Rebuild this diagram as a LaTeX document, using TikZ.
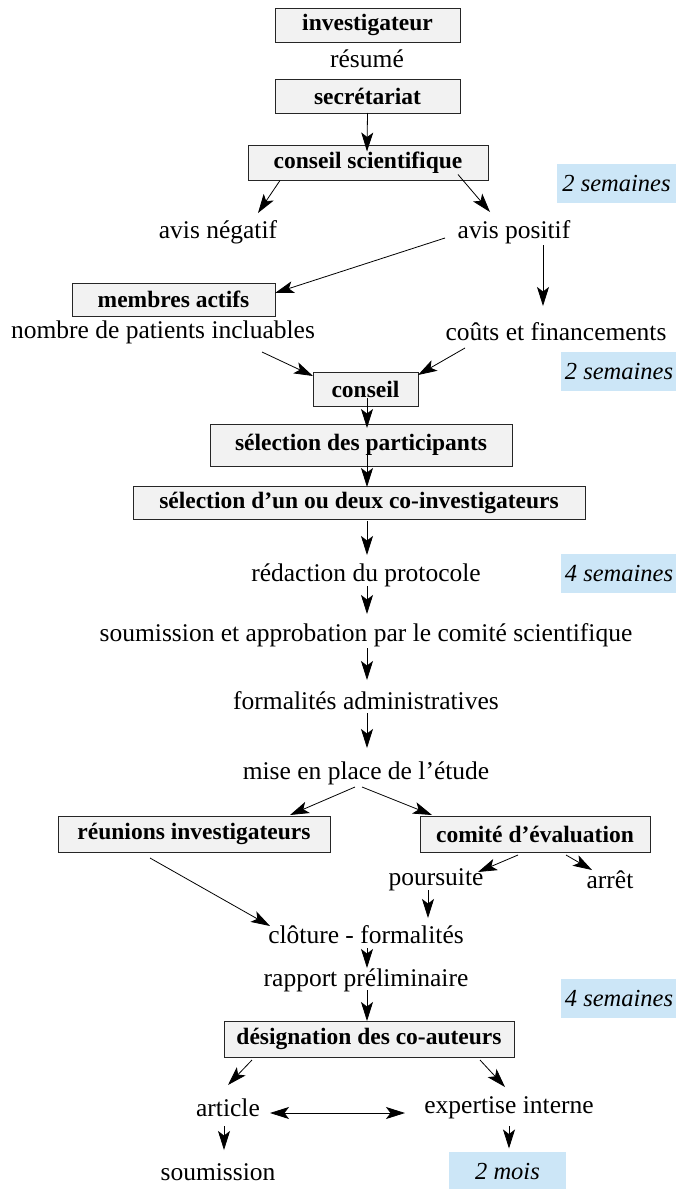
\documentclass[tikz,border=0pt]{standalone}
\usepackage{fontspec}
\setmainfont{Liberation Serif}
\usetikzlibrary{arrows.meta,shadows}
\definecolor{boxfill}{RGB}{242,242,242}
\definecolor{bluefill}{RGB}{204,230,247}
\begin{document}
\begin{tikzpicture}[x=1pt,y=-1pt,
  box/.style={draw=black!85, fill=boxfill, line width=0.7pt, inner sep=0pt,
    font=\fontsize{23.5}{28}\selectfont\bfseries,
    drop shadow={shadow xshift=1.2pt, shadow yshift=-1.2pt, fill=black!45, opacity=1}},
  txt/.style={inner sep=0pt, font=\fontsize{25.5}{30}\selectfont},
  dur/.style={fill=bluefill, inner sep=0pt, font=\fontsize{24.5}{30}\selectfont\itshape},
  arr/.style={-{Stealth[length=19pt,width=12pt,inset=4.5pt]}, line width=0.8pt},
  darr/.style={{Stealth[length=19pt,width=12pt,inset=4.5pt]}-{Stealth[length=19pt,width=12pt,inset=4.5pt]}, line width=0.8pt}]
\useasboundingbox (0,0) rectangle (676,1189);
% boxes
\node[box, minimum width=185, minimum height=34] (inv) at (367.5,25) {investigateur};
\node[txt] (resume) at (367,59) {résumé};
\node[box, minimum width=185, minimum height=34] (sec) at (367.5,96) {secrétariat};
\node[box, minimum width=240, minimum height=35] (cs) at (368,162.5) {conseil scientifique};
\node[dur, minimum width=119, minimum height=39] (d1) at (616.5,183.5) {2 semaines};
\node[txt] (neg) at (218,232) {avis négatif};
\node[txt] (pos) at (514,232) {avis positif};
\node[box, minimum width=203, minimum height=33] (ma) at (173.5,299.5) {membres actifs};
\node[txt] (pat) at (163,332) {nombre de patients incluables};
\node[txt] (couts) at (556,332) {coûts et financements};
\node[dur, minimum width=116, minimum height=39] (d2) at (619,371.5) {2 semaines};
\node[box, minimum width=105, minimum height=34] (conseil) at (365.5,389) {conseil};
\node[box, minimum width=302, minimum height=42] (selp) at (361,445) {sélection des participants};
\node[box, minimum width=452, minimum height=33] (selc) at (359,502.5) {sélection d’un ou deux co-investigateurs};
\node[txt] (redac) at (366,575) {rédaction du protocole};
\node[dur, minimum width=116, minimum height=39] (d3) at (619,573.5) {4 semaines};
\node[txt] (soum) at (366,635) {soumission et approbation par le comité scientifique};
\node[txt] (formal) at (366,701) {formalités administratives};
\node[txt] (mise) at (366,773) {mise en place de l’étude};
\node[box, minimum width=272, minimum height=36] (reun) at (194,834) {réunions investigateurs};
\node[box, minimum width=230, minimum height=36] (comite) at (535,834) {comité d’évaluation};
\node[txt] (pours) at (436,880) {poursuite};
\node[txt] (arret) at (610,880) {arrêt};
\node[txt] (clot) at (366,935) {clôture - formalités};
\node[txt] (rapp) at (366,980) {rapport préliminaire};
\node[dur, minimum width=116, minimum height=39] (d4) at (619,998.5) {4 semaines};
\node[box, minimum width=290, minimum height=36] (desig) at (369,1039) {désignation des co-auteurs};
\node[txt] (article) at (228,1108) {article};
\node[txt] (expert) at (509,1108) {expertise interne};
\node[txt] (soumis) at (218,1172) {soumission};
\node[dur, minimum width=117, minimum height=38] (d5) at (507.5,1171) {2 mois};
% connectors
\draw[arr] ([shift={(0,17)}]sec.center) -- ([shift={(-1,-11)}]cs.center);
\draw[arr] ([shift={(-88,18)}]cs.center) -- ([shift={(40,-19)}]neg.center);
\draw[arr] ([shift={(90,12)}]cs.center) -- ([shift={(-24,-20)}]pos.center);
\draw[arr] ([shift={(-69,6)}]pos.center) -- ([shift={(101.5,-6.5)}]ma.center);
\draw[arr] ([shift={(29,13)}]pos.center) -- ([shift={(-13,-26)}]couts.center);
\draw[arr] ([shift={(99,20)}]pat.center) -- ([shift={(-52.5,-13)}]conseil.center);
\draw[arr] ([shift={(-91,16)}]couts.center) -- ([shift={(52.5,-14)}]conseil.center);
\draw[arr] ([shift={(1.5,9)}]conseil.center) -- ([shift={(6,-17)}]selp.center);
\draw[arr] ([shift={(6,10)}]selp.center) -- ([shift={(8,-15.5)}]selc.center);
\draw[arr] ([shift={(8,18.5)}]selc.center) -- ([shift={(1,-20)}]redac.center);
\draw[arr] ([shift={(1,11)}]redac.center) -- ([shift={(1,-21)}]soum.center);
\draw[arr] ([shift={(1,13)}]soum.center) -- ([shift={(1,-21)}]formal.center);
\draw[arr] ([shift={(1,12)}]formal.center) -- ([shift={(1,-25)}]mise.center);
\draw[arr] ([shift={(-11,14)}]mise.center) -- ([shift={(96,-19)}]reun.center);
\draw[arr] ([shift={(-4,14)}]mise.center) -- ([shift={(-103,-19)}]comite.center);
\draw[arr] ([shift={(-17,21)}]comite.center) -- ([shift={(42,-8)}]pours.center);
\draw[arr] ([shift={(31,21)}]comite.center) -- ([shift={(-18,-10)}]arret.center);
\draw[arr] ([shift={(-8,10)}]pours.center) -- ([shift={(62,-17)}]clot.center);
\draw[arr] ([shift={(-44,24)}]reun.center) -- ([shift={(-96,-9)}]clot.center);
\draw[arr] ([shift={(1,13)}]clot.center) -- ([shift={(1,-12)}]rapp.center);
\draw[arr] ([shift={(1,10)}]rapp.center) -- ([shift={(-2,-18)}]desig.center);
\draw[arr] ([shift={(-117,21)}]desig.center) -- ([shift={(0,-23)}]article.center);
\draw[arr] ([shift={(111,21)}]desig.center) -- ([shift={(-4,-21)}]expert.center);
\draw[darr] ([shift={(42,5)}]article.center) -- ([shift={(-104,5)}]expert.center);
\draw[arr] ([shift={(-4,18)}]article.center) -- ([shift={(6,-22)}]soumis.center);
\draw[arr] ([shift={(0,18)}]expert.center) -- ([shift={(1.5,-22.5)}]d5.center);
\end{tikzpicture}
\end{document}
